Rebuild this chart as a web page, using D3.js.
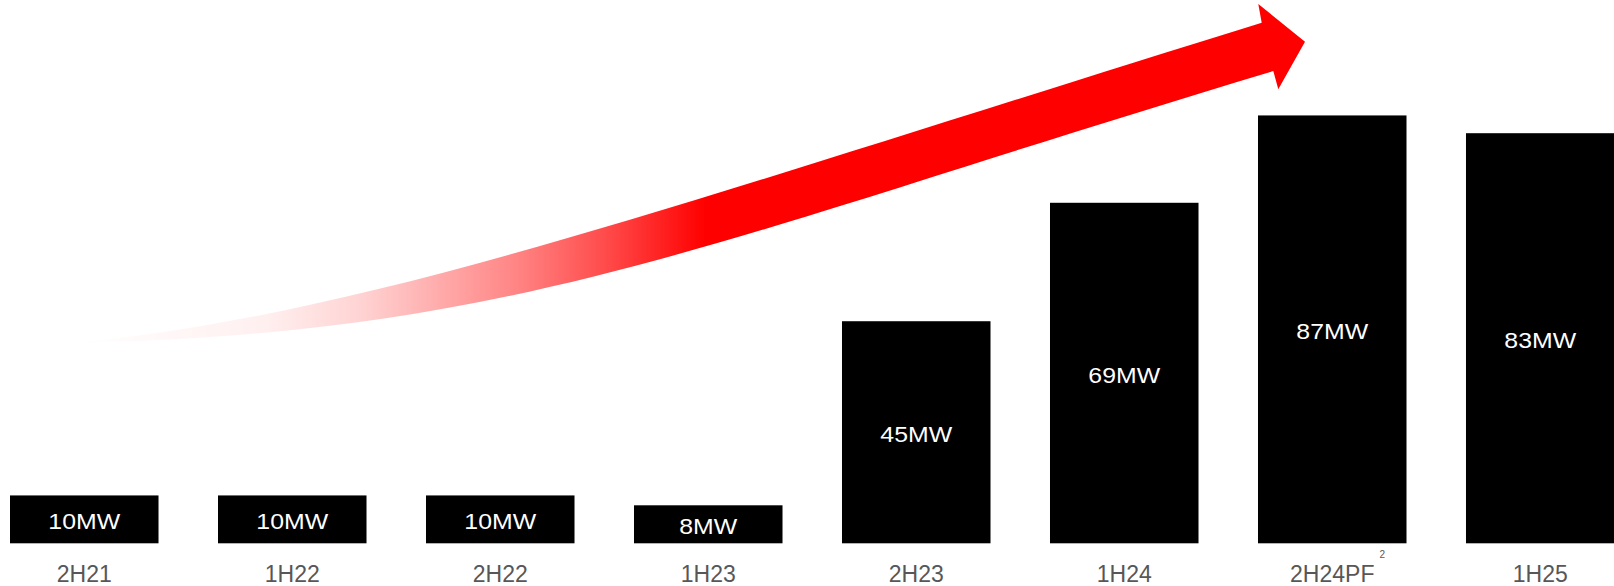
<!DOCTYPE html>
<html>
<head>
<meta charset="utf-8">
<script src="https://cdn.jsdelivr.net/npm/d3@7"></script>
<style>
  html, body { margin: 0; padding: 0; background: #fff; }
  svg { display: block; }
</style>
</head>
<body>
<svg id="chart" width="1614" height="586"></svg>
<script>
// ---- data ----
const categories = ["2H21", "1H22", "2H22", "1H23", "2H23", "1H24", "2H24PF", "1H25"];
const values = [9.7, 9.7, 9.7, 7.7, 45, 69, 86.7, 83.1];
const valueLabels = ["10MW", "10MW", "10MW", "8MW", "45MW", "69MW", "87MW", "83MW"];
const superscripts = { "2H24PF": "2" };

// ---- setup ----
const svg = d3.select("#chart");
const baseY = 543.3;

const x = d3.scaleBand()
  .domain(categories)
  .range([10, 1614.5])
  .paddingInner(0.286)
  .paddingOuter(0);

const y = d3.scaleLinear()
  .domain([0, 100])
  .range([baseY, baseY - 493.5]);

// ---- growth arrow (decorative annotation) ----
const defs = svg.append("defs");
const grad = defs.append("linearGradient")
  .attr("id", "arrowGrad")
  .attr("gradientUnits", "userSpaceOnUse")
  .attr("x1", 75).attr("y1", 0).attr("x2", 705).attr("y2", 0);
[[0, 0], [0.3, 0.06], [0.45, 0.17], [0.7, 0.48], [0.85, 0.72], [1, 1]].forEach(([o, a]) => {
  grad.append("stop").attr("offset", o).attr("stop-color", "#ff0000").attr("stop-opacity", a);
});

const tail = [75, 343];
const upper = { c1: [375, 313], c2: [662, 209], end: [1261.7, 22.7] };
const head = [[1258.3, 4], [1305, 41.7], [1278.3, 89.3], [1273.3, 71]];
const lower = { c1: [723, 236], c2: [525, 334] };

const p = d3.path();
p.moveTo(...tail);
p.bezierCurveTo(...upper.c1, ...upper.c2, ...upper.end);
head.forEach(pt => p.lineTo(...pt));
p.bezierCurveTo(...lower.c1, ...lower.c2, ...tail);
p.closePath();

svg.append("path")
  .attr("d", p.toString())
  .attr("fill", "url(#arrowGrad)");

// ---- bars ----
svg.append("g")
  .selectAll("rect")
  .data(categories)
  .join("rect")
  .attr("x", d => x(d))
  .attr("y", (d, i) => y(values[i]))
  .attr("width", x.bandwidth())
  .attr("height", (d, i) => y(0) - y(values[i]))
  .attr("fill", "#000");

// ---- value labels ----
svg.append("g")
  .selectAll("text")
  .data(categories)
  .join("text")
  .attr("transform", (d, i) => {
    const cx = x(d) + x.bandwidth() / 2;
    const cy = (y(values[i]) + y(0)) / 2 + 9.5;
    return `translate(${cx},${cy}) scale(1.13,1)`;
  })
  .attr("text-anchor", "middle")
  .attr("font-family", "'Liberation Sans', Arial, sans-serif")
  .attr("font-size", 22)
  .attr("fill", "#fff")
  .text((d, i) => valueLabels[i]);

// ---- category axis ----
const axis = svg.append("g")
  .attr("transform", `translate(0,${baseY})`)
  .call(d3.axisBottom(x).tickSize(0).tickPadding(22));
axis.select(".domain").remove();
axis.selectAll("text")
  .attr("font-family", "'Liberation Sans', Arial, sans-serif")
  .attr("font-size", 23)
  .attr("fill", "#575757");

// superscript note marker
svg.append("g")
  .selectAll("text")
  .data(categories.filter(c => superscripts[c]))
  .join("text")
  .attr("x", d => x(d) + x.bandwidth() / 2 + 50)
  .attr("y", 558)
  .attr("text-anchor", "middle")
  .attr("font-family", "'Liberation Sans', Arial, sans-serif")
  .attr("font-size", 10)
  .attr("fill", "#595959")
  .text(d => superscripts[d]);
</script>
</body>
</html>
